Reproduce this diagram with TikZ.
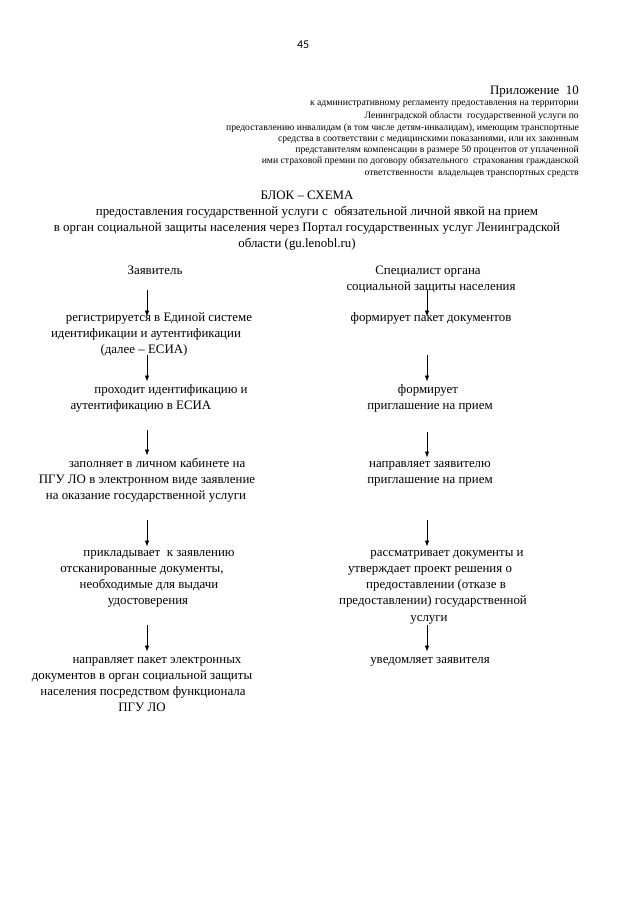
\documentclass[tikz,border=0pt]{standalone}
\usepackage{fontspec}
\setmainfont{Liberation Serif}
\newfontfamily\pgnumfont{Carlito}
\usetikzlibrary{arrows.meta}
\newcommand\shft[1]{\hspace*{\dimexpr#1pt*186/100\relax}}
\begin{document}
\begin{tikzpicture}[x=0.93pt,y=-0.93pt,
  txt/.style={font=\fontsize{12}{15}\selectfont, align=center, inner sep=0pt, anchor=north},
  small/.style={font=\fontsize{9}{10.4}\selectfont, align=right, inner sep=0pt, anchor=north east},
  flow/.style={-{Triangle[length=5pt,width=3.6pt]}, line width=0.6pt}]
\useasboundingbox (0,0) rectangle (640,905);
% page number and header
\node[font=\pgnumfont\fontsize{11}{13}\selectfont, inner sep=0pt] (pg) at (303,45) {45};
\node[font=\fontsize{12}{15}\selectfont, inner sep=0pt, anchor=base east] (app) at (579,94.5) {Приложение~~10};
\node[small] (hdr) at (579,97.4) {\strut к административному регламенту предоставления на территории\\[1.4pt]
Ленинградской области~ государственной услуги по\\[1pt]
предоставлению инвалидам (в том числе детям-инвалидам), имеющим транспортные\\
средства в соответствии с медицинскими показаниями, или их законным\\
представителям компенсации в размере 50 процентов от уплаченной\\
ими страховой премии по договору обязательного~ страхования гражданской\\
ответственности~ владельцев транспортных средств};
% title
\node[txt, font=\fontsize{12}{14.9}\selectfont] (title) at (307,188) {\strut БЛОК – СХЕМА\\
\shft{10}предоставления государственной услуги с~ обязательной личной явкой на прием\\
в орган социальной защиты населения через Портал государственных услуг Ленинградской\\
\shft{-10}области (gu.lenobl.ru)};
% column headers
\node[txt] (appl) at (155,263) {\strut Заявитель};
\node[txt] (spec) at (430,263) {\strut\shft{-2}Специалист органа\\\shft{1}социальной защиты населения};
% left column
\node[txt] (L1) at (146,310) {\strut\shft{13}регистрируется в Единой системе\\идентификации и аутентификации\\\shft{-2}(далее – ЕСИА)};
\node[txt] (L2) at (146,382) {\strut\shft{25}проходит идентификацию и\\\shft{-5}аутентификацию в ЕСИА};
\node[txt] (L3) at (146,456) {\strut\shft{11}заполняет в личном кабинете на\\\shft{1}ПГУ ЛО в электронном виде заявление\\на оказание государственной услуги};
\node[txt] (L4) at (146,545) {\strut\shft{13}прикладывает~ к заявлению\\\shft{-4}отсканированные документы,\\\shft{3}необходимые для выдачи\\\shft{2}удостоверения};
\node[txt] (L5) at (146,652) {\strut\shft{11}направляет пакет электронных\\\shft{-4}документов в орган социальной защиты\\\shft{-3}населения посредством функционала\\\shft{-4}ПГУ ЛО};
% right column
\node[txt] (R1) at (430,310) {\strut\shft{1}формирует пакет документов};
\node[txt] (R2) at (430,382) {\strut\shft{-2}формирует\\приглашение на прием};
\node[txt] (R3) at (430,456) {\strut направляет заявителю\\приглашение на прием};
\node[txt] (R4) at (430,545) {\strut\shft{17}рассматривает документы и\\утверждает проект решения о\\\shft{6}предоставлении (отказе в\\\shft{3}предоставлении) государственной\\\shft{-1}услуги};
\node[txt] (R5) at (430,652) {\strut уведомляет заявителя};
% arrow end points
\foreach \n/\ya/\yb in {1/290/316, 2/355/381, 3/430/455, 4/520/546, 5/625/651}{
  \coordinate (ls\n) at (147,\ya); \coordinate (le\n) at (147,\yb);
}
\foreach \n/\ya/\yb in {1/290/316, 2/355/381, 3/432/457, 4/520/546, 5/625/651}{
  \coordinate (rs\n) at (427,\ya); \coordinate (re\n) at (427,\yb);
}
\foreach \n in {1,...,5}{
  \draw[flow] (ls\n) -- (le\n);
  \draw[flow] (rs\n) -- (re\n);
}
\end{tikzpicture}
\end{document}
